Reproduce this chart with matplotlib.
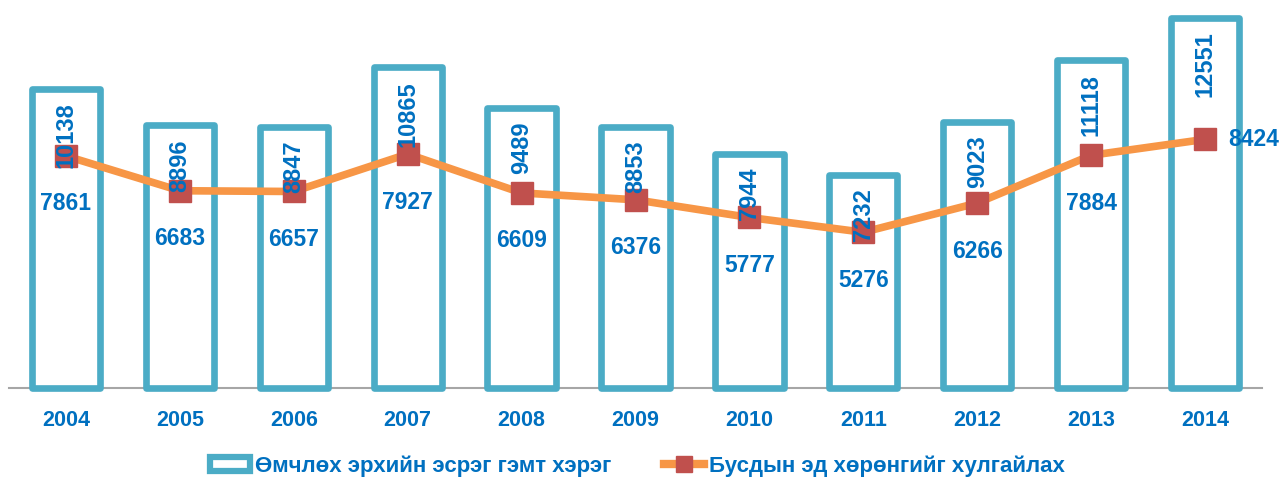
import matplotlib
matplotlib.use("Agg")
import matplotlib.pyplot as plt
from matplotlib.patches import Patch
from matplotlib.lines import Line2D

years = ["2004", "2005", "2006", "2007", "2008", "2009", "2010", "2011", "2012", "2013", "2014"]
property_crimes = [10138, 8896, 8847, 10865, 9489, 8853, 7944, 7232, 9023, 11118, 12551]
theft = [7861, 6683, 6657, 7927, 6609, 6376, 5777, 5276, 6266, 7884, 8424]
series_names = ["Өмчлөх эрхийн эсрэг гэмт хэрэг", "Бусдын эд хөрөнгийг хулгайлах"]

BAR_EDGE = "#4BACC6"
LINE_C = "#F79646"
MARK_C = "#C0504D"
TEXT_C = "#0070C0"
FONT = ["Liberation Sans", "DejaVu Sans"]

plt.rcParams["font.family"] = FONT
plt.rcParams["font.weight"] = "bold"

fig = plt.figure(figsize=(12.8, 4.79), dpi=100)
ax = fig.add_axes([9 / 1280, 91 / 479, 1253 / 1280, 383 / 479])

x = list(range(len(years)))
bars = ax.bar(x, property_crimes, width=0.6, facecolor="white", edgecolor=BAR_EDGE,
              linewidth=4.8, joinstyle="round", zorder=2, clip_on=False)
ax.plot(x, theft, color=LINE_C, linewidth=5.5, marker="s", markersize=15.5,
        markerfacecolor=MARK_C, markeredgecolor=MARK_C, zorder=3, clip_on=False)

ax.set_xlim(-0.5, len(years) - 0.5)
ax.set_ylim(0, 12975)
ax.set_xticks(x)
ax.set_xticklabels(years, fontsize=15.5, color=TEXT_C, fontweight="bold")
ax.tick_params(axis="x", length=0, pad=16)
ax.set_yticks([])
for s in ["top", "right", "left"]:
    ax.spines[s].set_visible(False)
ax.spines["bottom"].set_color("#A6A6A6")
ax.spines["bottom"].set_linewidth(1.5)
ax.spines["bottom"].set_zorder(1)

for xi, v in zip(x, property_crimes):
    ax.annotate(str(v), (xi, v), xytext=(0, -14), textcoords="offset pixels",
                rotation=90, ha="center", va="top", fontsize=17,
                color=TEXT_C, fontweight="bold", zorder=5)

for i, (xi, v) in enumerate(zip(x, theft)):
    if i == len(x) - 1:
        ax.annotate(str(v), (xi, v), xytext=(23, 0), textcoords="offset pixels",
                    ha="left", va="center", fontsize=16.5, color=TEXT_C, fontweight="bold", zorder=5)
    else:
        ax.annotate(str(v), (xi, v), xytext=(0, -48), textcoords="offset pixels",
                    ha="center", va="center", fontsize=16.5, color=TEXT_C, fontweight="bold", zorder=5)

handles = [
    Patch(facecolor="white", edgecolor=BAR_EDGE, linewidth=4.5, joinstyle="round"),
    Line2D([0], [0], color=LINE_C, linewidth=6, marker="s", markersize=11.5,
           markerfacecolor=MARK_C, markeredgecolor=MARK_C),
]
leg = fig.legend(handles, series_names, loc="center", bbox_to_anchor=(0.498, 0.027),
                 ncol=2, frameon=False, handlelength=1.8, handleheight=0.65, handletextpad=0.2,
                 columnspacing=2.4, prop={"family": FONT, "weight": "bold", "size": 16})
for t in leg.get_texts():
    t.set_color(TEXT_C)

fig.savefig("out.png", dpi=100)
